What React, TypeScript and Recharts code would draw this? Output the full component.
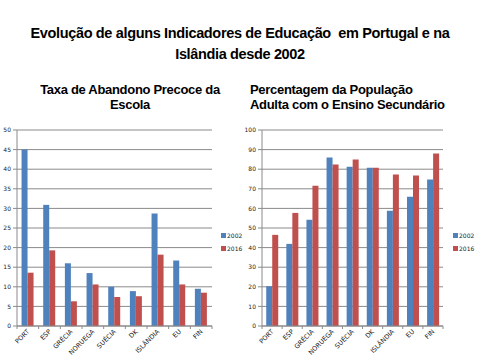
import React from 'react';
import { BarChart, Bar, XAxis, YAxis, CartesianGrid, Legend } from 'recharts';

const countries = ['PORT', 'ESP', 'GRÉCIA', 'NORUEGA', 'SUÉCIA', 'DK', 'ISLÂNDIA', 'EU', 'FIN'];
const dropout2002 = [45, 30.9, 16, 13.5, 10, 8.9, 28.7, 16.7, 9.5];
const dropout2016 = [13.6, 19.3, 6.3, 10.6, 7.4, 7.6, 18.2, 10.6, 8.5];
const adult2002 = [20.3, 41.9, 54.2, 86, 81.3, 80.8, 58.8, 66, 74.7];
const adult2016 = [46.5, 57.7, 71.6, 82.4, 85, 80.8, 77.3, 76.8, 88];
const dropoutTicks = [0, 5, 10, 15, 20, 25, 30, 35, 40, 45, 50];
const adultTicks = [0, 10, 20, 30, 40, 50, 60, 70, 80, 90, 100];

const BLUE = '#4F81BD';
const RED = '#C0504D';
const GRID = '#8a8a8a';

const dropoutData = countries.map((c, i) => ({ name: c, y2002: dropout2002[i], y2016: dropout2016[i] }));
const adultData = countries.map((c, i) => ({ name: c, y2002: adult2002[i], y2016: adult2016[i] }));

const CatTick = (props: any) => {
  const { x, y, payload, index } = props;
  const half = payload.offset || 0;
  return (
    <g>
      {index === 0 && <line x1={x - half} x2={x - half} y1={y} y2={y + 3} stroke={GRID} />}
      <line x1={x + half} x2={x + half} y1={y} y2={y + 3} stroke={GRID} />
      <text
        transform={`translate(${x + 2},${y + 6}) rotate(-45)`}
        textAnchor="end"
        fontSize={6.5}
        fontFamily="DejaVu Sans"
        fill="#222"
      >
        {payload.value}
      </text>
    </g>
  );
};

const LegendBox = () => (
  <div style={{ fontFamily: 'DejaVu Sans', fontSize: 6, color: '#222' }}>
    {[
      { label: '2002', color: BLUE },
      { label: '2016', color: RED },
    ].map((it) => (
      <div key={it.label} style={{ display: 'flex', alignItems: 'center', height: 13 }}>
        <span style={{ width: 5, height: 5, background: it.color, marginRight: 1 }} />
        <span>{it.label}</span>
      </div>
    ))}
  </div>
);

const SmallChart = ({ data, ticks, max, yWidth, marginRight, legendLeft }: any) => (
  <BarChart
    width={240}
    height={360}
    data={data}
    margin={{ top: 130, right: marginRight, bottom: 0, left: 0 }}
    barGap={0}
    barCategoryGap="21%"
  >
    <CartesianGrid vertical={false} stroke={GRID} />
    <XAxis
      dataKey="name"
      interval={0}
      height={34}
      tickLine={false}
      tickSize={0}
      tickMargin={0}
      stroke={GRID}
      tick={<CatTick />}
    />
    <YAxis
      width={yWidth}
      domain={[0, max]}
      ticks={ticks}
      interval={0}
      tickSize={4}
      tickMargin={2}
      stroke={GRID}
      tick={{ fontSize: 6, fontFamily: 'DejaVu Sans', fill: '#222' }}
    />
    <Legend
      layout="vertical"
      align="center"
      verticalAlign="middle"
      wrapperStyle={{ left: legendLeft, top: 229, width: 'auto' }}
      content={<LegendBox />}
    />
    <Bar dataKey="y2002" name="2002" fill={BLUE} isAnimationActive={false} />
    <Bar dataKey="y2016" name="2016" fill={RED} isAnimationActive={false} />
  </BarChart>
);

const titleStyle: React.CSSProperties = {
  position: 'absolute',
  fontFamily: 'Liberation Sans, Arial, sans-serif',
  fontWeight: 'bold',
  color: '#000',
};

export default function App() {
  return (
    <div style={{ position: 'fixed', left: 0, top: 0, width: 480, height: 360, background: '#fff', overflow: 'hidden' }}>
      <div style={{ ...titleStyle, left: 0, top: 23, width: 480, textAlign: 'center', fontSize: 14.5, lineHeight: '21px', letterSpacing: -0.35 }}>
        Evolução de alguns Indicadores de Educação&nbsp; em Portugal e na
        <br />
        Islândia desde 2002
      </div>
      <div style={{ ...titleStyle, left: 30, top: 82, width: 200, textAlign: 'center', fontSize: 13, lineHeight: '15px', letterSpacing: -0.3 }}>
        Taxa de Abandono Precoce da
        <br />
        Escola
      </div>
      <div style={{ ...titleStyle, left: 250, top: 82, width: 230, textAlign: 'left', fontSize: 13, lineHeight: '15px', letterSpacing: -0.3 }}>
        Percentagem da População
        <br />
        Adulta com o Ensino Secundário
      </div>
      <div style={{ position: 'absolute', left: 0, top: 0 }}>
        <SmallChart data={dropoutData} ticks={dropoutTicks} max={50} yWidth={17} marginRight={28} legendLeft={221} />
      </div>
      <div style={{ position: 'absolute', left: 240, top: 0 }}>
        <SmallChart data={adultData} ticks={adultTicks} max={100} yWidth={22} marginRight={37} legendLeft={213} />
      </div>
    </div>
  );
}
